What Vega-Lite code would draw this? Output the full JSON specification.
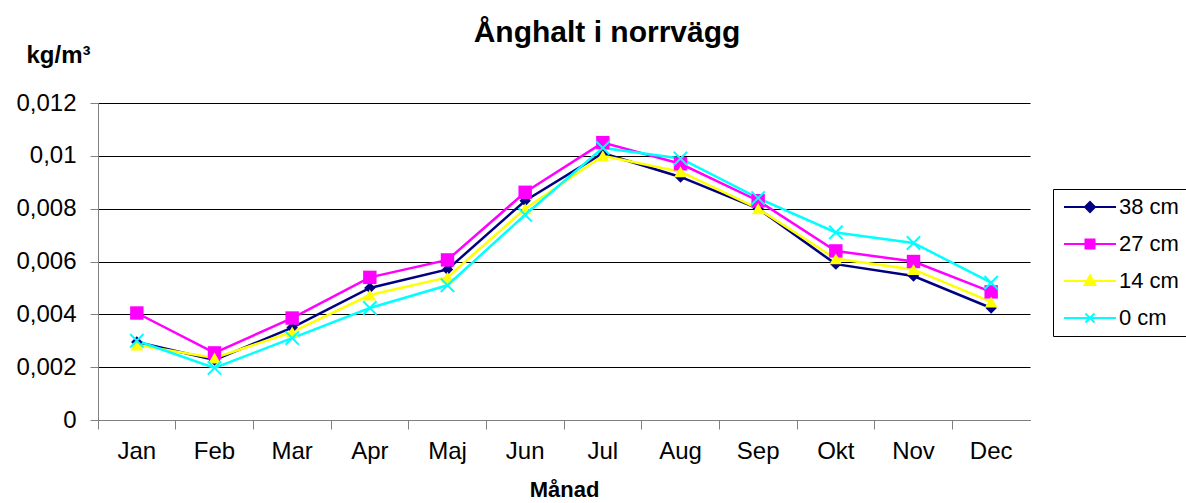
{
  "$schema": "https://vega.github.io/schema/vega-lite/v6.json",
  "autosize": {"type": "none"},
  "width": 932,
  "height": 317,
  "padding": {"left": 98, "top": 103, "right": 156, "bottom": 83},
  "background": "white",
  "config": {
    "font": "Liberation Sans",
    "view": {"stroke": null}
  },
  "title": {
    "text": "Ånghalt i norrvägg",
    "fontSize": 30,
    "fontWeight": "bold",
    "color": "black",
    "anchor": "middle",
    "frame": "group",
    "dx": 43,
    "offset": -5
  },
  "datasets": {
    "rows": [
      {"month": "Jan", "series": "38 cm", "value": 0.00295},
      {"month": "Feb", "series": "38 cm", "value": 0.00227},
      {"month": "Mar", "series": "38 cm", "value": 0.0035},
      {"month": "Apr", "series": "38 cm", "value": 0.0050},
      {"month": "Maj", "series": "38 cm", "value": 0.0057},
      {"month": "Jun", "series": "38 cm", "value": 0.0083},
      {"month": "Jul", "series": "38 cm", "value": 0.0101},
      {"month": "Aug", "series": "38 cm", "value": 0.0092},
      {"month": "Sep", "series": "38 cm", "value": 0.0080},
      {"month": "Okt", "series": "38 cm", "value": 0.0059},
      {"month": "Nov", "series": "38 cm", "value": 0.00545},
      {"month": "Dec", "series": "38 cm", "value": 0.00424},
      {"month": "Jan", "series": "27 cm", "value": 0.00405},
      {"month": "Feb", "series": "27 cm", "value": 0.00254},
      {"month": "Mar", "series": "27 cm", "value": 0.00386},
      {"month": "Apr", "series": "27 cm", "value": 0.0054},
      {"month": "Maj", "series": "27 cm", "value": 0.00606},
      {"month": "Jun", "series": "27 cm", "value": 0.00862},
      {"month": "Jul", "series": "27 cm", "value": 0.0105},
      {"month": "Aug", "series": "27 cm", "value": 0.0097},
      {"month": "Sep", "series": "27 cm", "value": 0.0083},
      {"month": "Okt", "series": "27 cm", "value": 0.0064},
      {"month": "Nov", "series": "27 cm", "value": 0.0060},
      {"month": "Dec", "series": "27 cm", "value": 0.00485},
      {"month": "Jan", "series": "14 cm", "value": 0.00284},
      {"month": "Feb", "series": "14 cm", "value": 0.00235},
      {"month": "Mar", "series": "14 cm", "value": 0.00333},
      {"month": "Apr", "series": "14 cm", "value": 0.00473},
      {"month": "Maj", "series": "14 cm", "value": 0.0054},
      {"month": "Jun", "series": "14 cm", "value": 0.0080},
      {"month": "Jul", "series": "14 cm", "value": 0.0100},
      {"month": "Aug", "series": "14 cm", "value": 0.0094},
      {"month": "Sep", "series": "14 cm", "value": 0.0080},
      {"month": "Okt", "series": "14 cm", "value": 0.0061},
      {"month": "Nov", "series": "14 cm", "value": 0.0057},
      {"month": "Dec", "series": "14 cm", "value": 0.00447},
      {"month": "Jan", "series": "0 cm", "value": 0.0030},
      {"month": "Feb", "series": "0 cm", "value": 0.00197},
      {"month": "Mar", "series": "0 cm", "value": 0.0031},
      {"month": "Apr", "series": "0 cm", "value": 0.00424},
      {"month": "Maj", "series": "0 cm", "value": 0.0051},
      {"month": "Jun", "series": "0 cm", "value": 0.00777},
      {"month": "Jul", "series": "0 cm", "value": 0.0103},
      {"month": "Aug", "series": "0 cm", "value": 0.0099},
      {"month": "Sep", "series": "0 cm", "value": 0.0084},
      {"month": "Okt", "series": "0 cm", "value": 0.0071},
      {"month": "Nov", "series": "0 cm", "value": 0.0067},
      {"month": "Dec", "series": "0 cm", "value": 0.0052}
    ]
  },
  "data": {"name": "rows"},
  "encoding": {
    "x": {
      "field": "month",
      "type": "nominal",
      "sort": ["Jan", "Feb", "Mar", "Apr", "Maj", "Jun", "Jul", "Aug", "Sep", "Okt", "Nov", "Dec"],
      "scale": {"type": "band", "paddingInner": 0, "paddingOuter": 0},
      "axis": {
        "title": "Månad",
        "titleFontSize": 22,
        "titleFontWeight": "bold",
        "titleColor": "black",
        "titlePadding": 16,
        "labelAngle": 0,
        "labelFontSize": 24,
        "labelColor": "black",
        "labelPadding": 10,
        "bandPosition": 0,
        "tickSize": 9,
        "tickColor": "#808080",
        "domainColor": "#808080",
        "grid": false
      }
    },
    "y": {
      "field": "value",
      "type": "quantitative",
      "scale": {"domain": [0, 0.012], "nice": false, "zero": true},
      "axis": {
        "values": [0, 0.002, 0.004, 0.006, 0.008, 0.01, 0.012],
        "labelExpr": "replace(format(datum.value, '~g'), '.', ',')",
        "labelFontSize": 24,
        "labelColor": "black",
        "labelPadding": 14,
        "tickSize": 8,
        "tickColor": "#808080",
        "domainColor": "#808080",
        "grid": true,
        "gridColor": "black",
        "gridOpacity": 1,
        "gridWidth": 1,
        "title": "kg/m³",
        "titleAngle": 0,
        "titleFontSize": 24,
        "titleFontWeight": "bold",
        "titleColor": "black",
        "titleX": -40,
        "titleY": -48,
        "titleAlign": "center",
        "titleBaseline": "middle"
      }
    }
  },
  "layer": [
    {
      "mark": {"type": "line", "strokeWidth": 2.5},
      "encoding": {
        "color": {
          "field": "series",
          "type": "nominal",
          "scale": {
            "domain": ["38 cm", "27 cm", "14 cm", "0 cm"],
            "range": ["#000080", "#FF00FF", "#FFFF00", "#00FFFF"]
          },
          "legend": {
            "title": null,
            "orient": "none",
            "legendX": 955,
            "legendY": 86,
            "strokeColor": "black",
            "padding": 7,
            "labelFontSize": 22,
            "labelColor": "black",
            "labelOffset": 18,
            "symbolSize": 400,
            "symbolStrokeWidth": 2,
            "symbolOffset": 19,
            "rowPadding": 15,
            "encode": {
              "symbols": {
                "update": {
                  "shape": {"signal": "datum.value === '38 cm' ? 'M-2.6,0L2.6,0M-0.5,0L0,-0.5L0.5,0L0,0.5Z' : datum.value === '27 cm' ? 'M-2.6,0L2.6,0M-0.45,-0.45L0.45,-0.45L0.45,0.45L-0.45,0.45Z' : datum.value === '14 cm' ? 'M-2.6,0L2.6,0M0,-0.55L0.55,0.4L-0.55,0.4Z' : 'M-2.6,0L2.6,0M-0.45,-0.45L0.45,0.45M-0.45,0.45L0.45,-0.45'"},
                  "fill": {"signal": "datum.value === '0 cm' ? 'transparent' : scale('color', datum.value)"},
                  "stroke": {"signal": "scale('color', datum.value)"},
                  "strokeWidth": {"value": 2}
                }
              }
            }
          }
        }
      }
    },
    {
      "transform": [{"filter": "datum.series === '38 cm'"}],
      "mark": {"type": "point", "shape": "diamond", "filled": true, "size": 130, "color": "#000080", "opacity": 1}
    },
    {
      "transform": [{"filter": "datum.series === '27 cm'"}],
      "mark": {"type": "point", "shape": "square", "filled": true, "size": 180, "color": "#FF00FF", "opacity": 1}
    },
    {
      "transform": [{"filter": "datum.series === '14 cm'"}],
      "mark": {"type": "point", "shape": "triangle-up", "filled": true, "size": 160, "color": "#FFFF00", "opacity": 1}
    },
    {
      "transform": [{"filter": "datum.series === '0 cm'"}],
      "mark": {"type": "point", "shape": "M-1,-1L1,1M-1,1L1,-1", "filled": false, "size": 180, "color": "#00FFFF", "strokeWidth": 2, "opacity": 1}
    }
  ]
}
